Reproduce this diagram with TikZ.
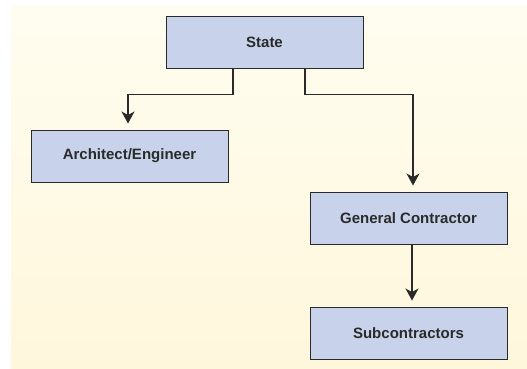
\documentclass[tikz,border=0pt]{standalone}
\usepackage{fontspec}
\setmainfont{Liberation Sans}
\usetikzlibrary{arrows.meta}
\definecolor{boxfill}{HTML}{C8D3EB}
\definecolor{ink}{HTML}{2A2A2A}
\definecolor{papertop}{HTML}{FFFDF0}
\definecolor{paperbot}{HTML}{FFF7DC}
\tikzset{
  orgbox/.style={draw=ink, line width=1pt, fill=boxfill, minimum width=197pt,
    minimum height=52pt, inner sep=0pt, text=ink,
    font=\fontsize{15}{17}\selectfont\bfseries},
  link/.style={draw=ink, line width=1.1pt,
    -{Stealth[length=12pt,width=13pt,inset=3.5pt]}, shorten >=6pt}
}
\begin{document}
\begin{tikzpicture}[x=1pt,y=-1pt]
  \useasboundingbox (0,0) rectangle (527,368);
  % cream panel behind the chart
  \shade[top color=papertop, bottom color=paperbot] (11,5) rectangle (527,368);

  \node[orgbox] (State) at (264.5,42) {State};
  \node[orgbox] (Arch)  at (129.5,156) {Architect/Engineer};
  \node[orgbox] (GC)    at (408.5,218) {General Contractor};
  \node[orgbox] (Sub)   at (408.5,333) {Subcontractors};

  \draw[link] ([xshift=-31.5pt]State.south) -- ++(0,26) -| ([xshift=-1.5pt]Arch.north);
  \draw[link] ([xshift=40.5pt]State.south) -- ++(0,26) -| ([xshift=4.5pt]GC.north);
  \draw[link] ([xshift=3.5pt]GC.south) -- ([xshift=3.5pt]Sub.north);
\end{tikzpicture}
\end{document}
